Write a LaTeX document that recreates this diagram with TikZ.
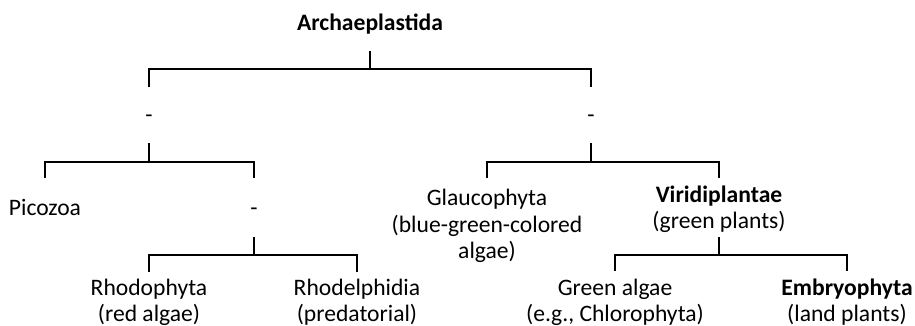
\documentclass[tikz,border=0pt]{standalone}
\usepackage{fontspec}
\setmainfont{Carlito}
\begin{document}
\begin{tikzpicture}[x=1pt,y=-1pt,
  lbl/.style={inner sep=0pt, align=center, anchor=base, font=\fontsize{23.6}{26.5}\selectfont},
  br/.style={line width=2pt, line join=miter, line cap=butt}]
\useasboundingbox (0,0) rectangle (915,326);
% nodes (anchor=base sits on the last line's baseline)
\node[lbl] (root) at (370,31) {\textbf{Archaeplastida}};
\node[lbl] (d1) at (149,123) {-};
\node[lbl] (d2) at (591,123) {-};
\node[lbl] (pico) at (45,215) {Picozoa};
\node[lbl] (d3) at (254,215) {-};
\node[lbl] (gla) at (487,258.5) {Glaucophyta\\(blue-green-colored\\algae)};
\node[lbl] (vir) at (719,228.5) {\textbf{Viridiplantae}\\(green plants)};
\node[lbl] (rho) at (149,321.5) {Rhodophyta\\(red algae)};
\node[lbl] (rhe) at (357,321.5) {Rhodelphidia\\(predatorial)};
\node[lbl] (gre) at (615,321.5) {Green algae\\(e.g., Chlorophyta)};
\node[lbl] (emb) at (847,321.5) {\textbf{Embryophyta}\\(land plants)};
% connectors
\draw[br] (root |- 0,51) -- (root |- 0,69);
\draw[br] (d1 |- 0,87) -- (d1 |- 0,69) -- (d2 |- 0,69) -- (d2 |- 0,87);
\draw[br] (d1 |- 0,143) -- (d1 |- 0,162);
\draw[br] (pico |- 0,178) -- (pico |- 0,162) -- (d3 |- 0,162) -- (d3 |- 0,178);
\draw[br] (d2 |- 0,143) -- (d2 |- 0,162);
\draw[br] (gla |- 0,178) -- (gla |- 0,162) -- (vir |- 0,162) -- (vir |- 0,178);
\draw[br] (d3 |- 0,237) -- (d3 |- 0,255);
\draw[br] (rho |- 0,272) -- (rho |- 0,255) -- (rhe |- 0,255) -- (rhe |- 0,272);
\draw[br] (vir |- 0,237) -- (vir |- 0,255);
\draw[br] (gre |- 0,271) -- (gre |- 0,255) -- (emb |- 0,255) -- (emb |- 0,271);
\end{tikzpicture}
\end{document}
